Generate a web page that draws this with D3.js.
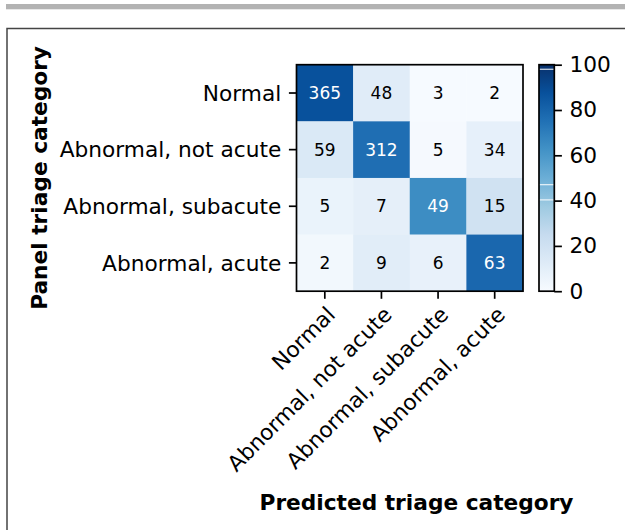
<!DOCTYPE html>
<html>
<head>
<meta charset="utf-8">
<script src="https://cdn.jsdelivr.net/npm/d3@7"></script>
<style>
  html, body { margin: 0; padding: 0; background: #fff; }
  svg { display: block; font-family: "DejaVu Sans", sans-serif; }
</style>
</head>
<body>
<div id="chart"></div>
<script>
// confusion matrix: panel triage (rows) vs predicted triage (columns)
const categories = ["Normal", "Abnormal, not acute", "Abnormal, subacute", "Abnormal, acute"];
const row0 = [365, 48, 3, 2];
const row1 = [59, 312, 5, 34];
const row2 = [5, 7, 49, 15];
const row3 = [2, 9, 6, 63];
const counts = [row0, row1, row2, row3];
const colorbarTicks = [0, 20, 40, 60, 80, 100];
const colorbarSeams = [98, 47, 40.3];
const bluesStops = ["#f7fbff", "#deebf7", "#c6dbef", "#9ecae1", "#6baed6",
                    "#4292c6", "#2171b5", "#08519c", "#08306b"];

(function() {
  const width = 625, height = 530;
  const fs = 21.7;

  const svg = d3.select("#chart").append("svg")
    .attr("width", width)
    .attr("height", height);

  // page frame
  svg.append("rect")
    .attr("x", 6).attr("y", 4).attr("width", width - 6).attr("height", 5.3)
    .attr("fill", "#b3b3b3");
  svg.append("path")
    .attr("d", `M${width + 5},28.6 H7 V${height + 5}`)
    .attr("fill", "none")
    .attr("stroke", "#444")
    .attr("stroke-width", 1.5);

  const hm = { left: 296.5, top: 64.7, size: 226.5 };

  const x = d3.scaleBand().domain(d3.range(4)).range([hm.left, hm.left + hm.size]);
  const y = d3.scaleBand().domain(d3.range(4)).range([hm.top, hm.top + hm.size]);

  const color = d3.scaleLinear()
    .domain(d3.range(9).map(i => i * 12.5))
    .range(bluesStops)
    .clamp(true);

  const cells = [];
  counts.forEach((row, i) => {
    const total = d3.sum(row);
    row.forEach((v, j) => cells.push({ i, j, v, pct: v / total * 100 }));
  });

  const g = svg.append("g");

  g.selectAll(".cell")
    .data(cells)
    .enter().append("rect")
    .attr("class", "cell")
    .attr("x", d => x(d.j))
    .attr("y", d => y(d.i))
    .attr("width", x.bandwidth() + 0.3)
    .attr("height", y.bandwidth() + 0.3)
    .attr("fill", d => color(d.pct));

  g.selectAll(".cell-label")
    .data(cells)
    .enter().append("text")
    .attr("class", "cell-label")
    .attr("x", d => x(d.j) + x.bandwidth() / 2)
    .attr("y", d => y(d.i) + y.bandwidth() / 2)
    .attr("dy", "0.36em")
    .attr("text-anchor", "middle")
    .attr("font-size", 17)
    .attr("fill", d => d.pct > 50 ? "#fff" : "#000")
    .text(d => d.v);

  // frame
  g.append("rect")
    .attr("x", hm.left).attr("y", hm.top)
    .attr("width", hm.size).attr("height", hm.size)
    .attr("fill", "none")
    .attr("stroke", "#000")
    .attr("stroke-width", 1.7);

  const tickLen = 7.6, pad = 7.6;

  // y axis ticks + labels
  const yAxis = g.append("g");
  categories.forEach((c, i) => {
    const cy = y(i) + y.bandwidth() / 2;
    yAxis.append("line")
      .attr("x1", hm.left - tickLen).attr("x2", hm.left)
      .attr("y1", cy).attr("y2", cy)
      .attr("stroke", "#000").attr("stroke-width", 1.7);
    yAxis.append("text")
      .attr("x", hm.left - tickLen - pad)
      .attr("y", cy)
      .attr("dy", "0.36em")
      .attr("text-anchor", "end")
      .attr("font-size", fs)
      .text(c);
  });

  // x axis ticks + rotated labels
  const xAxis = g.append("g");
  const bottom = hm.top + hm.size;
  categories.forEach((c, j) => {
    const cx = x(j) + x.bandwidth() / 2;
    xAxis.append("line")
      .attr("x1", cx).attr("x2", cx)
      .attr("y1", bottom).attr("y2", bottom + tickLen)
      .attr("stroke", "#000").attr("stroke-width", 1.7);
    xAxis.append("text")
      .attr("transform", `translate(${cx},${bottom + tickLen + pad - 2}) rotate(-45)`)
      .attr("dy", "0.76em")
      .attr("text-anchor", "end")
      .attr("font-size", fs)
      .text(c);
  });

  // axis titles
  svg.append("text")
    .attr("transform", `translate(46.5,${hm.top + hm.size / 2}) rotate(-90)`)
    .attr("text-anchor", "middle")
    .attr("font-size", fs)
    .attr("font-weight", "bold")
    .text("Panel triage category");

  svg.append("text")
    .attr("x", 416.5)
    .attr("y", 510)
    .attr("text-anchor", "middle")
    .attr("font-size", fs)
    .attr("font-weight", "bold")
    .text("Predicted triage category");

  // colorbar
  const cb = { left: 539, width: 15.3 };
  const cbScale = d3.scaleLinear().domain([0, 100]).range([hm.top + hm.size, hm.top]);

  const grad = svg.append("defs").append("linearGradient")
    .attr("id", "blues")
    .attr("x1", 0).attr("x2", 0).attr("y1", 1).attr("y2", 0);
  grad.selectAll("stop")
    .data(bluesStops)
    .enter().append("stop")
    .attr("offset", (d, i) => `${i * 12.5}%`)
    .attr("stop-color", d => d);

  const cbg = svg.append("g");
  cbg.append("rect")
    .attr("x", cb.left).attr("y", cbScale(100))
    .attr("width", cb.width).attr("height", cbScale(0) - cbScale(100))
    .attr("fill", "url(#blues)");

  cbg.selectAll(".seam")
    .data(colorbarSeams)
    .enter().append("line")
    .attr("class", "seam")
    .attr("x1", cb.left).attr("x2", cb.left + cb.width)
    .attr("y1", d => cbScale(d)).attr("y2", d => cbScale(d))
    .attr("stroke", "#fff").attr("stroke-width", 1);

  cbg.append("rect")
    .attr("x", cb.left).attr("y", cbScale(100))
    .attr("width", cb.width).attr("height", cbScale(0) - cbScale(100))
    .attr("fill", "none")
    .attr("stroke", "#000").attr("stroke-width", 1.7);

  const cbAxis = d3.axisRight(cbScale)
    .tickValues(colorbarTicks)
    .tickSize(tickLen)
    .tickPadding(pad)
    .tickFormat(d3.format("d"));

  cbg.append("g")
    .attr("transform", `translate(${cb.left + cb.width},0)`)
    .call(cbAxis)
    .call(s => s.select(".domain").remove())
    .call(s => s.selectAll("line").attr("stroke-width", 1.7))
    .call(s => s.selectAll("text")
      .attr("font-size", fs)
      .attr("font-family", "DejaVu Sans, sans-serif")
      .attr("fill", "#000"));
})();
</script>
</body>
</html>
